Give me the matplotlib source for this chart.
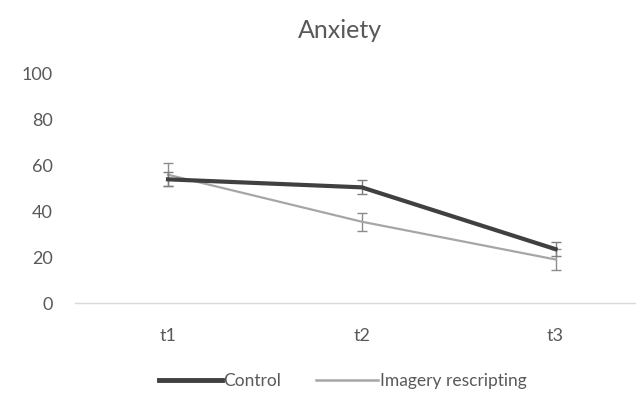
import matplotlib.pyplot as plt
from matplotlib.lines import Line2D

plt.rcParams['font.family'] = ['Lato', 'DejaVu Sans']

timepoints = ['t1', 't2', 't3']
control = [54, 50.5, 23.5]
control_err = [3, 3, 3]
imagery = [56, 35.5, 19]
imagery_err = [5, 4, 4.5]

text_color = '#595959'
control_color = '#404040'
imagery_color = '#a6a6a6'

fig = plt.figure(figsize=(6.43, 3.93), dpi=100)
ax = fig.add_axes([75 / 643, 90 / 393, 560 / 643, 229 / 393])

x = range(len(timepoints))
ax.errorbar(x, imagery, yerr=imagery_err, color=imagery_color, lw=1.6,
            ecolor='#8c8c8c', elinewidth=1, capsize=3.5, capthick=1, zorder=2)
ax.errorbar(x, control, yerr=control_err, color=control_color, lw=3,
            ecolor='#7f7f7f', elinewidth=1, capsize=3.5, capthick=1, zorder=3)

ax.set_xlim(-0.48, 2.41)
ax.set_ylim(0, 100)
ax.set_yticks(range(0, 101, 20))
ax.set_xticks(list(x))
ax.set_xticklabels(timepoints)

for side in ['top', 'right', 'left']:
    ax.spines[side].set_visible(False)
ax.spines['bottom'].set_color('#d9d9d9')
ax.spines['bottom'].set_linewidth(1)
ax.tick_params(axis='both', length=0, colors=text_color, labelsize=13)
ax.tick_params(axis='y', pad=16)
ax.tick_params(axis='x', pad=18)

fig.text(340 / 643, 1 - 30 / 393, 'Anxiety', ha='center', va='center',
         fontsize=18, color=text_color)

handles = [Line2D([], [], color=control_color, lw=3.5),
           Line2D([], [], color=imagery_color, lw=1.8)]
fig.legend(handles, ['Control', 'Imagery rescripting'], loc='center',
           bbox_to_anchor=(343 / 643, 1 - 381 / 393), ncol=2, frameon=False,
           fontsize=12.5, labelcolor=text_color, handlelength=3.6,
           handletextpad=0.1, columnspacing=2.0)

fig.savefig('out.png', dpi=100)
